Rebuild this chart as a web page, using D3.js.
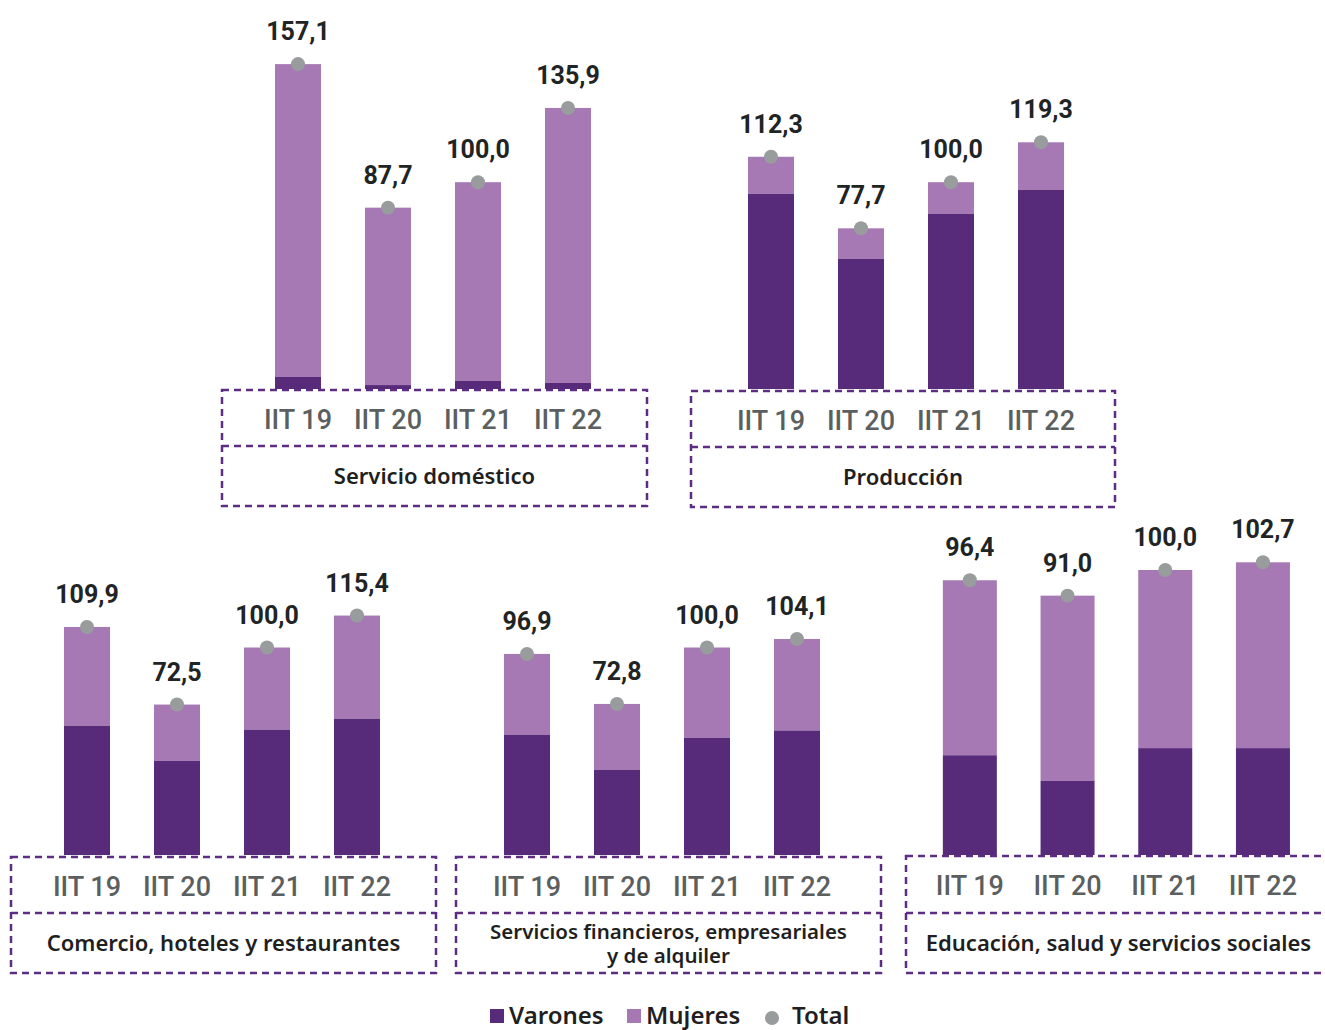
<!DOCTYPE html>
<html lang="es">
<head>
<meta charset="UTF-8">
<title>Índice por rama y sexo</title>
<script src="https://cdn.jsdelivr.net/npm/d3@7"></script>
<style>
  body { margin: 0; background: #fff; }
</style>
</head>
<body>
<div id="chart"></div>
<script>
// data
var periods = ["IIT 19", "IIT 20", "IIT 21", "IIT 22"];
var sectors = ["Servicio doméstico", "Producción", "Comercio, hoteles y restaurantes",
               "Servicios financieros, empresariales y de alquiler", "Educación, salud y servicios sociales"];
var totals = [
  [157.1, 87.7, 100.0, 135.9],
  [112.3, 77.7, 100.0, 119.3],
  [109.9, 72.5, 100.0, 115.4],
  [96.9, 72.8, 100.0, 104.1],
  [96.4, 91.0, 100.0, 102.7]
];
// varones share of the stacked bar
var varones = [
  [5.8, 1.9, 3.9, 2.9],
  [94.4, 62.9, 84.7, 96.3],
  [62.3, 45.4, 60.4, 65.7],
  [58.0, 41.0, 56.5, 60.0],
  [35.0, 26.0, 37.5, 37.5]
];
var legendItems = ["Varones", "Mujeres", "Total"];

var colVar = "#582a7a", colMuj = "#a779b4", colDot = "#999c9c", boxCol = "#5c2d82";
var fontNum = "Roboto, sans-serif", fontLab = "'Noto Sans', sans-serif";

// panel layout
var panels = [
  { left: 253, step: 90, bw: 46, base: 389, k: 2.068, box: [222, 390, 425, 116], split: 56 },
  { left: 726, step: 90, bw: 46, base: 389, k: 2.068, box: [691, 391, 424, 116], split: 56 },
  { left: 42,  step: 90, bw: 46, base: 855, k: 2.075, box: [11, 857, 425, 116], split: 56 },
  { left: 482, step: 90, bw: 46, base: 855, k: 2.075, box: [456, 857, 425, 116], split: 56 },
  { left: 921, step: 97.7, bw: 54, base: 855, k: 2.85, box: [906, 856, 425, 117], split: 57 }
];

var width = 1325, height = 1030;
var svg = d3.select("#chart").append("svg")
  .attr("width", width).attr("height", height);

sectors.forEach(function(name, i) {
  var p = panels[i];
  var g = svg.append("g");
  var pi = 1 - p.bw / p.step;
  var x = d3.scaleBand().domain(periods)
    .range([p.left, p.left + p.step * periods.length])
    .paddingInner(pi).paddingOuter(pi / 2);
  var maxV = d3.max(totals[i]);
  var y = d3.scaleLinear().domain([0, maxV]).range([p.base, p.base - maxV * p.k]);

  var rows = periods.map(function(per, j) {
    return { per: per, tot: totals[i][j], v: varones[i][j] };
  });

  // mujeres (top part)
  g.selectAll(".muj").data(rows).join("rect")
    .attr("x", d => x(d.per)).attr("width", x.bandwidth())
    .attr("y", d => y(d.tot)).attr("height", d => y(d.v) - y(d.tot))
    .attr("fill", colMuj);
  // varones (bottom)
  g.selectAll(".var").data(rows).join("rect")
    .attr("x", d => x(d.per)).attr("width", x.bandwidth())
    .attr("y", d => y(d.v)).attr("height", d => y(0) - y(d.v))
    .attr("fill", colVar);
  // total dots
  g.selectAll(".dot").data(rows).join("circle")
    .attr("cx", d => x(d.per) + x.bandwidth() / 2).attr("cy", d => y(d.tot))
    .attr("r", 7).attr("fill", colDot);
  // value labels
  g.selectAll(".val").data(rows).join("text")
    .attr("x", d => x(d.per) + x.bandwidth() / 2).attr("y", d => y(d.tot) - 24)
    .attr("text-anchor", "middle").attr("font-size", 25).attr("font-weight", 700)
    .style("font-family", fontNum)
    .attr("fill", "#1f2424")
    .text(d => d3.format(".1f")(d.tot).replace(".", ","));

  // dashed boxes
  var b = p.box;
  g.append("rect").attr("x", b[0]).attr("y", b[1]).attr("width", b[2]).attr("height", b[3])
    .attr("fill", "none").attr("stroke", boxCol).attr("stroke-width", 2.5)
    .attr("stroke-dasharray", "7,5");
  g.append("line").attr("x1", b[0]).attr("x2", b[0] + b[2])
    .attr("y1", b[1] + p.split).attr("y2", b[1] + p.split)
    .attr("stroke", boxCol).attr("stroke-width", 2.5).attr("stroke-dasharray", "7,5");

  // axis tick labels
  var ax = d3.axisBottom(x).tickSize(0).tickPadding(0);
  var axg = g.append("g").attr("transform", "translate(0," + (b[1] + 20) + ")").call(ax);
  axg.select(".domain").remove();
  axg.selectAll("text").attr("font-size", 27).attr("font-weight", 500)
    .attr("fill", "#5b5f5f").style("font-family", fontNum);

  // sector label
  var cx = b[0] + b[2] / 2;
  var lines = i === 3 ? ["Servicios financieros, empresariales", "y de alquiler"] : [name];
  var cy = b[1] + p.split + (b[3] - p.split) / 2;
  lines.forEach(function(t, li) {
    g.append("text").attr("x", cx)
      .attr("y", cy + 8 + (li - (lines.length - 1) / 2) * 24)
      .attr("text-anchor", "middle").attr("font-size", lines.length > 1 ? 20.5 : 22)
      .attr("font-weight", 600)
      .style("font-family", fontLab)
      .attr("fill", "#1f1f1f").text(t);
  });
});

// legend
var lg = svg.append("g").attr("transform", "translate(0,1011)");
var lx = [490, 627, 765];
legendItems.forEach(function(t, i) {
  if (i < 2) {
    lg.append("rect").attr("x", lx[i]).attr("y", -2).attr("width", 14).attr("height", 14)
      .attr("fill", i === 0 ? colVar : colMuj);
  } else {
    lg.append("circle").attr("cx", lx[i] + 7).attr("cy", 7).attr("r", 7).attr("fill", colDot);
  }
  lg.append("text").attr("x", lx[i] + (i < 2 ? 19 : 27)).attr("y", 13)
    .attr("font-size", 24).attr("font-weight", 600)
    .style("font-family", fontLab)
    .attr("fill", "#1f1f1f").text(t);
});
</script>
</body>
</html>
